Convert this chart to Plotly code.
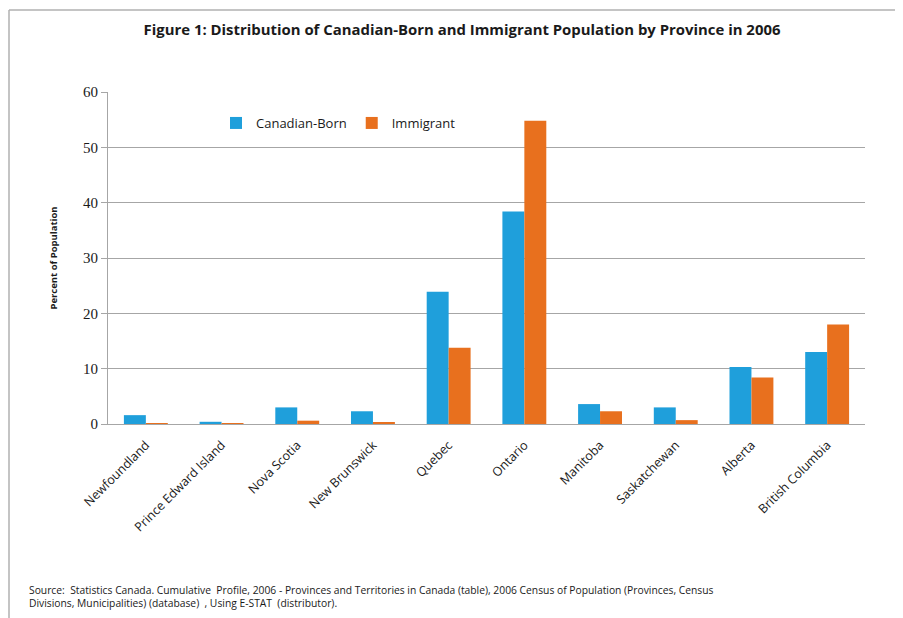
import plotly.graph_objects as go

provinces = ["Newfoundland", "Prince Edward Island", "Nova Scotia", "New Brunswick",
             "Quebec", "Ontario", "Manitoba", "Saskatchewan", "Alberta", "British Columbia"]
canadian_born = [1.6, 0.4, 3.0, 2.3, 23.9, 38.4, 3.6, 3.0, 10.3, 13.0]
immigrant = [0.1, 0.05, 0.6, 0.3, 13.8, 54.8, 2.3, 0.7, 8.4, 18.0]
y_ticks = [0, 10, 20, 30, 40, 50, 60]

BLUE = "#1f9fdb"
ORANGE = "#e8701e"
GRID = "#a6a6a6"

W, H = 895, 610
L, T, B, R = 100, 84, 194, 38
PW, PH = W - L - R, H - T - B

fig = go.Figure()
fig.add_trace(go.Bar(x=provinces, y=canadian_born, name="Canadian-Born", marker_color=BLUE,
                     marker_line_width=0))
fig.add_trace(go.Bar(x=provinces, y=immigrant, name="Immigrant", marker_color=ORANGE,
                     marker_line_width=0))

fig.update_layout(
    width=W, height=H,
    paper_bgcolor="white", plot_bgcolor="white",
    margin=dict(l=L, r=R, t=T, b=B),
    barmode="group", bargap=0.42, bargroupgap=0,
    title=dict(text="<b>Figure 1: Distribution of Canadian-Born and Immigrant Population by Province in 2006</b>",
               x=(454 - L) / PW, xref="paper", xanchor="center", y=1 - 22 / H, yanchor="middle",
               font=dict(family="Open Sans, sans-serif", size=14.9, color="#1a1a1a")),
    legend=dict(orientation="h", x=(208 - L) / PW, y=1 - (115 - T) / PH, xanchor="left", yanchor="middle",
                font=dict(family="Open Sans, sans-serif", size=13, color="#1a1a1a"),
                bgcolor="rgba(0,0,0,0)", itemwidth=30, traceorder="normal"),
    showlegend=True,
    font=dict(family="Open Sans, sans-serif"),
)

fig.update_yaxes(
    range=[0, 60], tickvals=y_ticks, ticktext=[str(v) for v in y_ticks],
    showgrid=True, gridcolor=GRID, gridwidth=1,
    showline=True, linecolor=GRID, linewidth=1,
    ticks="outside", ticklen=6, tickcolor=GRID,
    tickfont=dict(family="Liberation Serif, serif", size=15, color="#1a1a1a"),
    zeroline=False,
    title=dict(text="<b>Percent of Population</b>", standoff=23,
               font=dict(family="Open Sans, sans-serif", size=9.5, color="#1a1a1a")),
)
fig.update_xaxes(
    showline=True, linecolor=GRID, linewidth=1,
    tickangle=-45, ticks="", ticklabelstandoff=8,
    tickfont=dict(family="Open Sans, sans-serif", size=12.5, color="#1a1a1a"),
)

# frame lines (top and left)
fx = (1 - L) / PW
fy = 1 + (T - 2) / PH
fig.add_shape(type="line", xref="paper", yref="paper",
              x0=fx, x1=1 + (R + 10) / PW, y0=fy, y1=fy,
              line=dict(color="#b0b0b0", width=1.5))
fig.add_shape(type="line", xref="paper", yref="paper",
              x0=fx, x1=fx, y0=fy, y1=-(B + 10) / PH,
              line=dict(color="#b0b0b0", width=1.5))

fig.add_annotation(
    text="Source:  Statistics Canada. Cumulative  Profile, 2006 - Provinces and Territories in Canada (table), 2006 Census of Population (Provinces, Census<br>Divisions, Municipalities) (database)  , Using E-STAT  (distributor).",
    xref="paper", yref="paper", x=(19 - L) / PW, y=-(588.5 - (T + PH)) / PH, xanchor="left", yanchor="middle",
    align="left", showarrow=False,
    font=dict(family="Open Sans, sans-serif", size=10.3, color="#1a1a1a"),
)

fig.write_html("out.html")
